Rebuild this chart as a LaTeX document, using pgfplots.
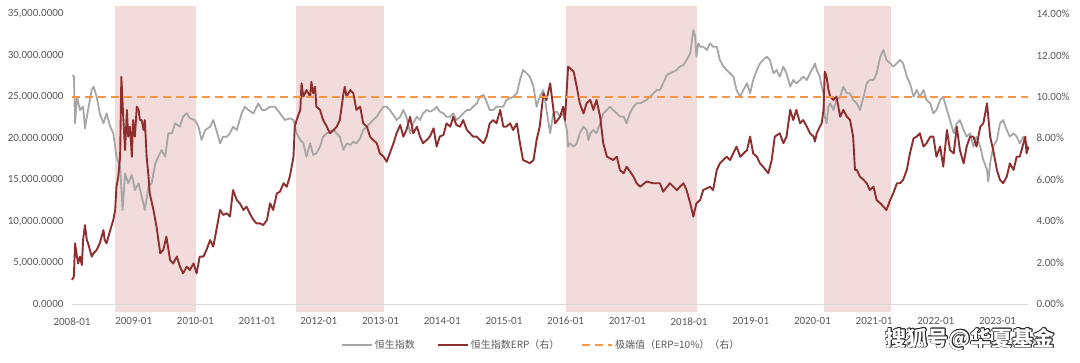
\documentclass[border=0pt]{standalone}
\usepackage{fontspec}
\setmainfont{Carlito}
\newfontfamily\cjk{Noto Sans CJK SC}
\usepackage{pgfplots}
\usepackage{pgfplotstable}
\pgfplotsset{compat=1.18}
\definecolor{hsi}{RGB}{166,166,166}
\definecolor{erp}{RGB}{142,46,46}
\definecolor{extr}{RGB}{247,150,70}
\definecolor{shade}{RGB}{242,220,219}
\definecolor{txt}{RGB}{89,89,89}
\definecolor{axl}{RGB}{217,217,217}

\pgfplotstableread{
x y
2008.01 27638
2008.03 27437
2008.05 21805
2008.08 25023
2008.13 23414
2008.18 23816
2008.21 21201
2008.26 23414
2008.32 25828
2008.35 26230
2008.40 25023
2008.45 23012
2008.51 21805
2008.56 23012
2008.62 21402
2008.67 20598
2008.72 17782
2008.78 16575
2008.82 11345
2008.86 15770
2008.91 14563
2008.97 15569
2009.02 13759
2009.08 14563
2009.13 12954
2009.18 11345
2009.24 14161
2009.29 14563
2009.35 16977
2009.40 17782
2009.45 18586
2009.51 17782
2009.56 20598
2009.62 20598
2009.67 21805
2009.75 21402
2009.80 22609
2009.86 23012
2009.91 22408
2009.99 22207
2010.05 21402
2010.10 19793
2010.16 21000
2010.24 21402
2010.29 22207
2010.34 21000
2010.40 19391
2010.45 20195
2010.51 20195
2010.56 20598
2010.61 21402
2010.67 21000
2010.75 23012
2010.80 23816
2010.86 23414
2010.94 23012
2011.02 24218
2011.08 23414
2011.13 23414
2011.21 23816
2011.29 23816
2011.37 23012
2011.45 22207
2011.53 22408
2011.59 22207
2011.64 20598
2011.70 19793
2011.75 19391
2011.80 17782
2011.86 19391
2011.91 17983
2011.96 18184
2012.02 18989
2012.07 20195
2012.13 20598
2012.18 20799
2012.24 21000
2012.29 20598
2012.34 20195
2012.40 18586
2012.45 19391
2012.51 19190
2012.56 19592
2012.61 19391
2012.67 19994
2012.72 21000
2012.78 21402
2012.83 21805
2012.88 22207
2012.94 22609
2012.99 23213
2013.05 23816
2013.10 23816
2013.15 23414
2013.21 22810
2013.26 22207
2013.32 22609
2013.37 23414
2013.42 22609
2013.48 20598
2013.53 21805
2013.59 22609
2013.64 22207
2013.69 23012
2013.75 23414
2013.80 23213
2013.86 23414
2013.91 23816
2013.96 23213
2014.02 23012
2014.07 22609
2014.13 22609
2014.18 23012
2014.23 22207
2014.29 22609
2014.34 23012
2014.40 23414
2014.45 23414
2014.50 23816
2014.56 24218
2014.61 25023
2014.67 25224
2014.72 24420
2014.77 23414
2014.83 23414
2014.88 23816
2014.94 23816
2014.99 23816
2015.04 24621
2015.10 24822
2015.15 25023
2015.21 25425
2015.26 27035
2015.31 28241
2015.37 27840
2015.42 27437
2015.48 26230
2015.53 23816
2015.58 25023
2015.64 25828
2015.69 23414
2015.75 20598
2015.80 23012
2015.86 23213
2015.91 22609
2015.96 23012
2016.02 21000
2016.04 18989
2016.07 19391
2016.13 18989
2016.18 19391
2016.23 20598
2016.29 21402
2016.34 21000
2016.37 19793
2016.40 20598
2016.45 21000
2016.50 20598
2016.56 21805
2016.61 23012
2016.67 23414
2016.72 23816
2016.77 23414
2016.83 23012
2016.88 22609
2016.94 22609
2016.99 21805
2017.04 23012
2017.10 23816
2017.15 24218
2017.21 24218
2017.26 24420
2017.31 24621
2017.37 25023
2017.42 25425
2017.48 25828
2017.53 25828
2017.58 26632
2017.64 27638
2017.69 27840
2017.75 28040
2017.80 28241
2017.85 28644
2017.91 28845
2017.96 29448
2018.02 30253
2018.07 33069
2018.10 32264
2018.12 29851
2018.15 31460
2018.18 31058
2018.23 31058
2018.29 30655
2018.34 31460
2018.39 31058
2018.45 31058
2018.50 29448
2018.56 28644
2018.61 28241
2018.665 27840
2018.72 27437
2018.77 25828
2018.83 25023
2018.88 25828
2018.94 26632
2018.99 25425
2019.04 27035
2019.10 28241
2019.15 29046
2019.20 29448
2019.26 29851
2019.31 29448
2019.37 27840
2019.42 28241
2019.47 27437
2019.53 28644
2019.58 27840
2019.64 26230
2019.69 27035
2019.74 26632
2019.80 27035
2019.85 27437
2019.91 27035
2019.96 27840
2020.02 28644
2020.04 29046
2020.07 28241
2020.12 27437
2020.15 26230
2020.18 25425
2020.20 22609
2020.23 21805
2020.26 23816
2020.29 24218
2020.34 23414
2020.39 24621
2020.45 25023
2020.50 26230
2020.56 25425
2020.61 25425
2020.66 24621
2020.72 24218
2020.77 23414
2020.83 25023
2020.88 26632
2020.93 27035
2020.99 27035
2021.04 27840
2021.10 29851
2021.15 30655
2021.20 29448
2021.26 29046
2021.31 28644
2021.37 29046
2021.42 29448
2021.47 29046
2021.53 27437
2021.58 26632
2021.64 25023
2021.69 25828
2021.74 25023
2021.80 25828
2021.85 24621
2021.91 24218
2021.96 23012
2022.01 23414
2022.07 24621
2022.12 25023
2022.18 23414
2022.23 22207
2022.29 20598
2022.34 21805
2022.39 22207
2022.45 21000
2022.50 20195
2022.555 20598
2022.61 18989
2022.66 20195
2022.72 18989
2022.77 17380
2022.83 16172
2022.85 14764
2022.88 16977
2022.93 18989
2022.99 19793
2023.04 21805
2023.09 22207
2023.15 21000
2023.20 20195
2023.26 20598
2023.31 20195
2023.36 19391
2023.42 20195
2023.47 19391
2023.50 18586
}\hsidata

\pgfplotstableread{
x y
2008.00 1.16
2008.03 1.32
2008.05 2.93
2008.08 2.29
2008.10 1.96
2008.13 2.29
2008.16 1.88
2008.18 3.09
2008.21 3.81
2008.24 3.09
2008.26 2.93
2008.29 2.61
2008.32 2.29
2008.35 2.45
2008.40 2.61
2008.45 2.93
2008.51 3.57
2008.53 3.09
2008.56 2.93
2008.62 3.57
2008.67 4.06
2008.70 4.54
2008.72 5.66
2008.75 6.15
2008.78 7.11
2008.80 10.97
2008.83 9.04
2008.86 7.43
2008.89 9.37
2008.91 8.08
2008.94 8.56
2008.97 7.11
2008.99 8.88
2009.02 8.08
2009.05 9.53
2009.08 9.37
2009.10 8.88
2009.13 8.88
2009.16 8.40
2009.18 8.88
2009.21 7.11
2009.24 6.15
2009.26 5.34
2009.32 4.54
2009.37 3.73
2009.43 2.45
2009.48 2.61
2009.53 3.25
2009.59 2.12
2009.64 1.96
2009.70 2.29
2009.75 1.80
2009.80 1.48
2009.86 1.80
2009.91 1.64
2009.97 1.96
2010.02 1.48
2010.07 2.29
2010.13 2.29
2010.18 2.61
2010.24 3.09
2010.29 2.77
2010.34 3.57
2010.40 4.54
2010.45 4.30
2010.51 4.38
2010.56 4.22
2010.61 5.50
2010.67 5.02
2010.72 4.86
2010.78 4.54
2010.83 4.70
2010.88 4.38
2010.94 4.06
2010.99 3.89
2011.05 3.89
2011.10 3.81
2011.16 4.06
2011.21 4.86
2011.26 4.54
2011.32 5.34
2011.37 5.42
2011.43 5.83
2011.48 5.66
2011.53 6.15
2011.59 7.11
2011.61 8.56
2011.64 8.88
2011.70 9.37
2011.72 10.65
2011.75 10.01
2011.80 10.33
2011.86 10.01
2011.88 10.73
2011.91 10.17
2011.94 10.49
2011.96 9.53
2012.02 9.37
2012.07 8.88
2012.13 8.56
2012.18 8.24
2012.24 8.40
2012.29 8.56
2012.34 8.88
2012.40 10.17
2012.42 10.49
2012.45 10.01
2012.51 10.33
2012.56 10.17
2012.61 9.37
2012.67 9.53
2012.72 8.72
2012.78 8.56
2012.83 8.08
2012.88 7.92
2012.94 7.76
2012.99 7.27
2013.05 7.11
2013.10 6.87
2013.15 7.27
2013.21 7.76
2013.26 8.24
2013.32 8.64
2013.37 8.08
2013.42 8.40
2013.48 9.04
2013.53 8.24
2013.59 8.56
2013.64 8.08
2013.69 7.76
2013.75 7.92
2013.80 8.08
2013.86 8.48
2013.91 7.60
2013.96 8.08
2014.02 8.16
2014.07 8.72
2014.13 8.56
2014.18 9.04
2014.23 8.64
2014.29 8.56
2014.34 8.88
2014.40 8.40
2014.45 8.24
2014.50 8.08
2014.56 8.08
2014.61 7.92
2014.67 7.76
2014.72 8.08
2014.77 8.72
2014.83 8.88
2014.88 8.72
2014.94 9.37
2014.99 8.56
2015.04 8.56
2015.10 8.72
2015.15 8.40
2015.21 8.72
2015.26 7.76
2015.31 6.95
2015.37 6.87
2015.42 6.79
2015.48 6.95
2015.53 7.92
2015.58 8.56
2015.64 10.17
2015.69 9.85
2015.75 10.65
2015.83 8.72
2015.91 9.04
2015.96 9.53
2015.99 8.88
2016.04 11.46
2016.13 11.22
2016.18 10.49
2016.23 9.69
2016.29 9.20
2016.34 9.69
2016.40 9.85
2016.45 9.37
2016.50 9.85
2016.56 9.04
2016.61 7.76
2016.67 7.11
2016.77 6.95
2016.83 7.11
2016.88 6.47
2016.94 6.31
2016.99 6.63
2017.10 6.15
2017.15 5.83
2017.21 5.66
2017.31 5.91
2017.42 5.83
2017.53 5.83
2017.58 5.42
2017.69 5.83
2017.80 5.50
2017.91 5.83
2017.96 5.50
2018.02 4.86
2018.07 4.22
2018.12 4.86
2018.18 5.02
2018.23 5.50
2018.34 5.66
2018.39 5.50
2018.45 6.47
2018.50 6.79
2018.61 7.11
2018.665 6.95
2018.77 7.60
2018.83 7.11
2018.94 7.43
2018.99 8.08
2019.04 7.27
2019.10 7.11
2019.15 6.79
2019.20 6.63
2019.285 6.31
2019.34 6.95
2019.39 8.08
2019.47 8.24
2019.53 7.76
2019.58 8.08
2019.64 9.37
2019.69 8.88
2019.74 9.37
2019.80 8.72
2019.85 8.88
2019.91 8.56
2019.96 8.24
2020.02 8.08
2020.04 7.84
2020.07 8.24
2020.12 8.56
2020.15 8.72
2020.18 9.37
2020.20 11.22
2020.23 10.97
2020.26 10.33
2020.29 10.01
2020.34 9.85
2020.39 10.01
2020.42 9.53
2020.45 9.04
2020.50 9.37
2020.56 9.04
2020.61 8.88
2020.66 8.08
2020.69 6.47
2020.72 6.47
2020.77 6.15
2020.83 5.99
2020.88 5.83
2020.93 5.50
2020.99 5.66
2021.04 5.02
2021.10 4.86
2021.15 4.70
2021.20 4.54
2021.26 5.02
2021.31 5.34
2021.37 5.83
2021.42 5.83
2021.47 5.99
2021.53 6.47
2021.58 7.27
2021.64 8.00
2021.69 8.08
2021.74 8.24
2021.80 7.60
2021.85 7.76
2021.91 8.08
2021.96 8.08
2022.01 7.11
2022.07 7.60
2022.12 6.63
2022.18 8.40
2022.23 7.43
2022.29 7.27
2022.34 8.56
2022.39 7.43
2022.45 6.79
2022.50 7.60
2022.555 8.08
2022.61 8.08
2022.66 7.60
2022.72 8.56
2022.77 8.72
2022.83 9.69
2022.85 9.04
2022.88 8.08
2022.93 7.43
2022.99 6.47
2023.04 5.99
2023.09 5.83
2023.15 6.15
2023.20 6.79
2023.26 6.47
2023.31 7.11
2023.36 7.11
2023.42 7.76
2023.45 8.08
2023.47 7.27
2023.50 7.60
}\erpdata

\pgfplotsset{
  common/.style={
    at={(72pt,59pt)}, anchor=south west,
    scale only axis, width=956pt, height=290pt,
    xmin=2008, xmax=2023.494,
    clip=false,
    major tick length=0pt,
    tick style={draw=none},
    ticklabel style={font=\fontsize{11}{13}\selectfont, text=txt},
  }
}

\begin{document}
\begin{tikzpicture}[x=1pt,y=1pt]
\path[use as bounding box] (0,0) rectangle (1080,363);
\begin{axis}[common,
  ymin=0, ymax=35000,
  scaled y ticks=false,
  axis x line*=bottom, axis y line*=left,
  x axis line style={draw=axl, line width=0.8pt, -},
  y axis line style={draw=none},
  xtick={2008,2009,2010,2011,2012,2013,2014,2015,2016,2017,2018,2019,2020,2021,2022,2023},
  xticklabels={2008-01,2009-01,2010-01,2011-01,2012-01,2013-01,2014-01,2015-01,2016-01,2017-01,2018-01,2019-01,2020-01,2021-01,2022-01,2023-01},
  xticklabel style={yshift=-10pt},
  ytick={0,5000,10000,15000,20000,25000,30000,35000},
  yticklabels={{0.0000},{5,000.0000},{10,000.0000},{15,000.0000},{20,000.0000},{25,000.0000},{30,000.0000},{35,000.0000}},
  yticklabel style={xshift=-5pt},
]
\addplot[draw=none, fill=shade] coordinates {(2008.70,-966) (2008.70,35966) (2010.01,35966) (2010.01,-966)} -- cycle;
\addplot[draw=none, fill=shade] coordinates {(2011.63,-966) (2011.63,35966) (2013.06,35966) (2013.06,-966)} -- cycle;
\addplot[draw=none, fill=shade] coordinates {(2016.01,-966) (2016.01,35966) (2018.13,35966) (2018.13,-966)} -- cycle;
\addplot[draw=none, fill=shade] coordinates {(2020.19,-966) (2020.19,35966) (2021.27,35966) (2021.27,-966)} -- cycle;
\draw[axl, line width=0.8pt] (axis cs:2008,0) -- (axis cs:2023.494,0);
\addplot[hsi, line width=1.8pt, line join=round] table[x=x,y=y] {\hsidata};
\end{axis}
\begin{axis}[common,
  ymin=0, ymax=14,
  axis y line*=right, axis x line=none,
  y axis line style={draw=none},
  ytick={0,2,4,6,8,10,12,14},
  yticklabels={0.00\%,2.00\%,4.00\%,6.00\%,8.00\%,10.00\%,12.00\%,14.00\%},
  yticklabel style={xshift=5pt},
  legend columns=3,
  legend style={at={(0.4911,-0.141)}, anchor=center, draw=none, fill=none,
    font=\cjk\fontsize{10}{12}\selectfont, text=txt,
    /tikz/every odd column/.append style={inner sep=0pt},
    /tikz/every even column/.append style={column sep=20pt}},
  legend image code/.code={\draw[#1] (0pt,0pt) -- (30pt,0pt);},
]
\addlegendimage{hsi, line width=1.5pt}
\addlegendentry{恒生指数}
\addplot[erp, line width=1.9pt, line join=round, forget plot] table[x=x,y=y] {\erpdata};
\addlegendimage{erp, line width=1.9pt}
\addlegendentry{恒生指数ERP（右）}
\addplot[extr, line width=1.6pt, dash pattern=on 8pt off 5pt] coordinates {(2008,10) (2023.494,10)};
\addlegendentry{极端值（ERP=10\%）（右）}
\end{axis}
\foreach \dx/\dy in {-0.9/0,0.9/0,0/-0.9,0/0.9,-0.7/-0.7,0.7/0.7,-0.7/0.7,0.7/-0.7}{
  \node[anchor=east, font=\cjk\bfseries\fontsize{21}{23}\selectfont, text=black!85, inner sep=0pt] at (1055+\dx,24+\dy) {搜狐号@华夏基金};
}
\node[anchor=east, font=\cjk\bfseries\fontsize{21}{23}\selectfont, text=white, inner sep=0pt] at (1055,24) {搜狐号@华夏基金};
\end{tikzpicture}
\end{document}
